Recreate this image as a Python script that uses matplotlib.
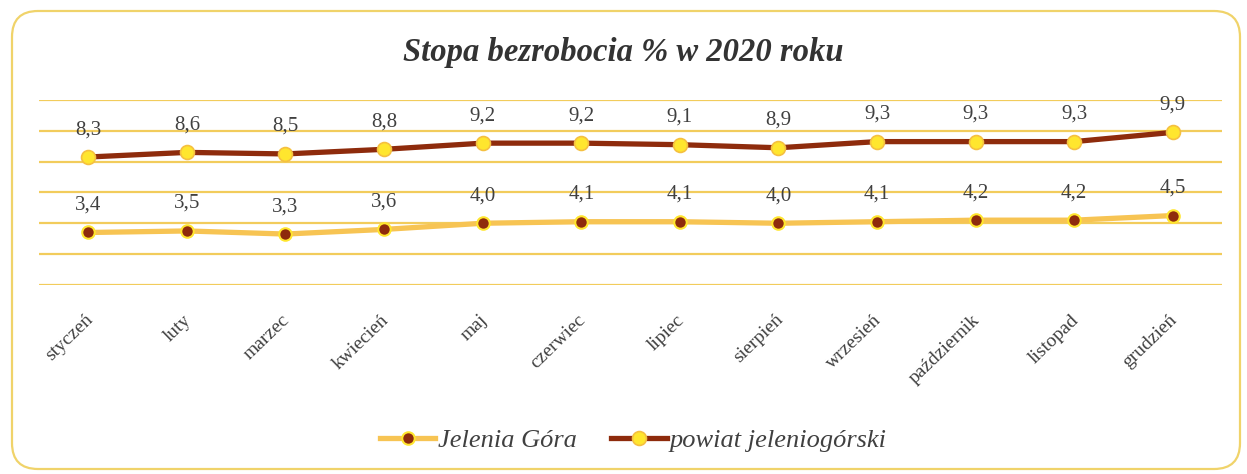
import matplotlib.pyplot as plt
import matplotlib.transforms as mtransforms
from matplotlib.patches import FancyBboxPatch

months = ['styczeń', 'luty', 'marzec', 'kwiecień', 'maj', 'czerwiec',
          'lipiec', 'sierpień', 'wrzesień', 'październik', 'listopad', 'grudzień']
jelenia_gora = [3.4, 3.5, 3.3, 3.6, 4.0, 4.1, 4.1, 4.0, 4.1, 4.2, 4.2, 4.5]
powiat = [8.3, 8.6, 8.5, 8.8, 9.2, 9.2, 9.1, 8.9, 9.3, 9.3, 9.3, 9.9]

GRID = '#F2CC5C'
LIGHT = '#F7C453'
DARK = '#8E2B0C'
YELLOW = '#FFE62E'
TEXT = '#404040'

plt.rcParams['font.family'] = ['Liberation Serif', 'DejaVu Serif']

W, H = 12.47, 4.74
fig = plt.figure(figsize=(W, H), dpi=100)
fig.patch.set_facecolor('white')

# rounded frame round the whole chart (pixel coords)
frame = FancyBboxPatch((12, 5), 1228, 458,
                       boxstyle='round,pad=0,rounding_size=26',
                       transform=None, fill=False,
                       edgecolor='#F0D36A', linewidth=1.6)
fig.patches.append(frame)

ax = fig.add_axes([0.0313, 0.399, 0.9487, 0.390])
x = list(range(len(months)))

ax.plot(x, jelenia_gora, '-', color=LIGHT, lw=3.8, marker='o', ms=9,
        mfc=DARK, mec=YELLOW, mew=1.5, label='Jelenia Góra', zorder=3)
ax.plot(x, powiat, '-', color=DARK, lw=3.8, marker='o', ms=10,
        mfc=YELLOW, mec='#F5C040', mew=1.2, label='powiat jeleniogórski', zorder=3)

for series in (jelenia_gora, powiat):
    for xi, v in zip(x, series):
        ax.annotate(f'{v:.1f}'.replace('.', ','), (xi, v), xytext=(0, 16.5),
                    textcoords='offset points', ha='center', va='baseline',
                    fontsize=15, color=TEXT)

ax.set_xlim(-0.5, 11.5)
ax.set_ylim(0, 12)
ax.set_yticks(range(0, 13, 2))
ax.yaxis.grid(True, color=GRID, lw=1.6)
ax.set_axisbelow(True)
ax.tick_params(axis='y', left=False, labelleft=False)
ax.tick_params(axis='x', length=0, pad=19)
ax.set_xticks(x)
ax.set_xticklabels(months, rotation=44, ha='right', rotation_mode='anchor',
                   fontsize=14, color=TEXT)
# nudge labels a little left of their category
shift = mtransforms.ScaledTranslation(-4 / 100, 0, fig.dpi_scale_trans)
for lbl in ax.get_xticklabels():
    lbl.set_transform(lbl.get_transform() + shift)
for sp in ax.spines.values():
    sp.set_visible(False)

fig.text(0.5, 1 - 53 / 474, 'Stopa bezrobocia % w 2020 roku', ha='center', va='center',
         fontsize=23.5, style='italic', weight='bold', color='#333333')

fig.legend(loc='center', bbox_to_anchor=(633 / 1247, 1 - 440 / 474), ncol=2,
           frameon=False, handlelength=2.1, columnspacing=1.3, handletextpad=0.1,
           prop={'style': 'italic', 'size': 19}, labelcolor=TEXT)

fig.savefig('out.png', dpi=100, facecolor='white')
